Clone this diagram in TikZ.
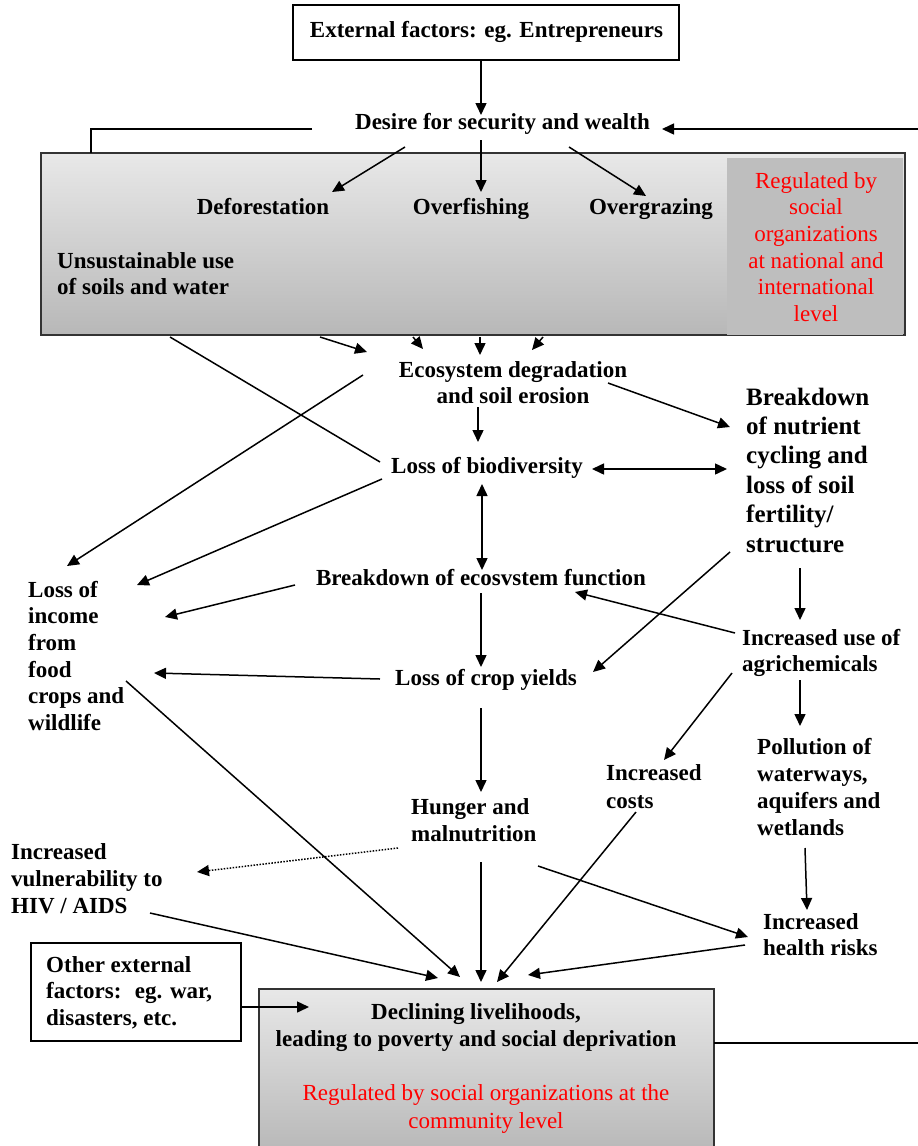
\documentclass[tikz,border=0pt]{standalone}
\usepackage{fontspec}
\setmainfont{Liberation Serif}
\usetikzlibrary{arrows.meta}
\newcommand\fsz[2]{\fontsize{#1}{#2}\selectfont}
\definecolor{gtop}{gray}{0.91}
\definecolor{gbot}{gray}{0.72}
\definecolor{ginner}{gray}{0.745}
\definecolor{gedge}{gray}{0.2}
\definecolor{regred}{RGB}{255,0,0}
\begin{document}
\begin{tikzpicture}[x=1pt,y=-1pt,
  bf/.style={inner sep=0pt, font=\bfseries\fsz{23}{#1}}, bf/.default=27,
  rg/.style={inner sep=0pt, text=regred, font=\fsz{23}{#1}}, rg/.default=27,
  conn/.style={line width=1.5pt},
  arr/.style={conn, -{Triangle[length=12pt,width=11pt]}},
  darr/.style={conn, {Triangle[length=12pt,width=11pt]}-{Triangle[length=12pt,width=11pt]}},
  dotarr/.style={arr, dash pattern=on 1.5pt off 1.5pt},
  plainbox/.style={draw, line width=1.2pt, inner sep=0pt},
  shadebox/.style={draw=gedge, line width=1.6pt, top color=gtop, bottom color=gbot, inner sep=0pt}]
\useasboundingbox (0,0) rectangle (918,1146);
\fill[white] (0,0) rectangle (918,1146);

% ---------- boxes ----------
\node[plainbox, minimum width=386pt, minimum height=55pt] (extbox) at (486,32.5) {};
\node[shadebox, minimum width=864pt, minimum height=182pt] (graybox) at (473,244) {};
\node[fill=ginner, inner sep=0pt, minimum width=176pt, minimum height=177pt] (regbox) at (815,246.5) {};
\node[plainbox, minimum width=210pt, minimum height=98pt] (otherbox) at (136,992) {};
\node[shadebox, minimum width=455pt, minimum height=164pt] (decbox) at (486.5,1071) {};

% ---------- texts ----------
\node[bf, anchor=base] (ext) at (486.5,37) {External factors: eg. Entrepreneurs};
\node[bf, anchor=base] (desire) at (502.5,129) {Desire for security and wealth};
\node[bf, anchor=base] (defor) at (263,214) {Deforestation};
\node[bf, anchor=base] (overf) at (471,214) {Overfishing};
\node[bf, anchor=base] (overg) at (651,214) {Overgrazing};
\node[bf=26, anchor=north west, align=left] (unsus) at (57,249.8) {\strut Unsustainable use\\of soils and water};
\node[rg=26.6, anchor=north, align=center] (regnat) at (816,169.4) {\strut Regulated by\\social\\organizations\\at national and\\international\\level};
\node[bf=26, anchor=north, align=center] (eco) at (513,358.8) {\strut Ecosystem degradation\\and soil erosion};
\node[bf, anchor=base] (biod) at (487,473) {Loss of biodiversity};
\node[inner sep=0pt, font=\bfseries\fsz{25}{29.4}, anchor=north west, align=left] (nutr) at (746,384.4) {\strut Breakdown\\of nutrient\\cycling and\\loss of soil\\fertility/\\structure};
\node[bf, anchor=base] (ecof) at (481,585) {Breakdown of ecosvstem function};
\node[bf, anchor=base] (crop) at (486,685) {Loss of crop yields};
\node[bf=26.6, anchor=north west, align=left] (income) at (28,578.4) {\strut Loss of\\income\\from\\food\\crops and\\wildlife};
\node[bf=26, anchor=north west, align=left] (agri) at (742,626.8) {\strut Increased use of\\agrichemicals};
\node[bf=28, anchor=north west, align=left] (costs) at (606,760.4) {\strut Increased\\costs};
\node[bf, anchor=north west, align=left] (poll) at (757,735.1) {\strut Pollution of\\waterways,\\aquifers and\\wetlands};
\node[bf=26, anchor=north west, align=left] (health) at (763,910.8) {\strut Increased\\health risks};
\node[bf, anchor=north west, align=left] (hunger) at (411,795.1) {\strut Hunger and\\malnutrition};
\node[bf, anchor=north west, align=left] (hiv) at (11,840.1) {\strut Increased\\vulnerability to\\HIV / AIDS};
\node[bf=26.5, anchor=north west, align=left] (other) at (46,953.4) {\strut Other external\\factors:~ eg. war,\\disasters, etc.};
\node[bf, anchor=north, align=center] (declin) at (476,1000.1) {\strut Declining livelihoods,\\leading to poverty and social deprivation};
\node[rg=28, anchor=north, align=center] (regcom) at (486,1080.4) {\strut Regulated by social organizations at the\\community level};

% ---------- connector end points ----------
\coordinate (ext-o) at (481,60);      \coordinate (des-i) at (481,115);
\coordinate (lft-a) at (312,129);     \coordinate (lft-b) at (91,129);   \coordinate (lft-c) at (91,153);
\coordinate (rgt-o) at (918,129);     \coordinate (des-r) at (662,129);
\coordinate (des-1) at (405,147);     \coordinate (def-i) at (332,192);
\coordinate (des-2) at (481,140);     \coordinate (ovf-i) at (481,192);
\coordinate (des-3) at (569,147);     \coordinate (ovg-i) at (646,196);
\coordinate (gb-1) at (320,337);      \coordinate (eco-1) at (367,352);
\coordinate (gb-2) at (413,337);      \coordinate (eco-2) at (423,349);
\coordinate (gb-3) at (480,337);      \coordinate (eco-3) at (480,355);
\coordinate (gb-4) at (543,337);      \coordinate (eco-4) at (532,350);
\coordinate (gb-5) at (170,337);      \coordinate (bio-l) at (380,462);
\coordinate (eco-l) at (363,375);     \coordinate (inc-1) at (67,566);
\coordinate (eco-b) at (478,407);     \coordinate (bio-t) at (478,442);
\coordinate (eco-r) at (608,383);     \coordinate (nut-1) at (730,427);
\coordinate (bio-r) at (592,469);     \coordinate (nut-2) at (727,469);
\coordinate (bio-d) at (382,479);     \coordinate (inc-2) at (137,585);
\coordinate (bio-b) at (482,484);     \coordinate (ecf-t) at (482,570);
\coordinate (ecf-l) at (295,585);     \coordinate (inc-3) at (165,617);
\coordinate (ecf-b) at (481,593);     \coordinate (crp-t) at (481,667);
\coordinate (crp-l) at (380,679);     \coordinate (inc-4) at (154,673);
\coordinate (agr-l) at (735,633);     \coordinate (ecf-r) at (575,592);
\coordinate (nut-b) at (730,552);     \coordinate (crp-r) at (593,672);
\coordinate (nut-d) at (800,568);     \coordinate (agr-t) at (800,620);
\coordinate (agr-d) at (732,673);     \coordinate (cst-t) at (664,760);
\coordinate (agr-b) at (800,680);     \coordinate (pol-t) at (800,726);
\coordinate (pol-b) at (805,848);     \coordinate (hea-t) at (807,910);
\coordinate (crp-b) at (481,708);     \coordinate (hun-t) at (481,792);
\coordinate (hun-l) at (398,848);     \coordinate (hiv-r) at (197,872);
\coordinate (inc-b) at (126,681);     \coordinate (dec-1) at (460,977);
\coordinate (hiv-b) at (150,913);     \coordinate (dec-2) at (438,978);
\coordinate (hun-b) at (481,862);     \coordinate (dec-3) at (481,982);
\coordinate (cst-b) at (636,812);     \coordinate (dec-4) at (497,982);
\coordinate (hun-r) at (538,866);     \coordinate (hea-l) at (748,937);
\coordinate (hea-b) at (745,945);     \coordinate (dec-5) at (528,975);
\coordinate (oth-r) at (241,1007);    \coordinate (dec-6) at (309,1007);
\coordinate (dec-r) at (714,1043);    \coordinate (rgt-e) at (918,1043);

% ---------- connectors ----------
\draw[arr] (ext-o) -- (des-i);
\draw[conn] (lft-a) -- (lft-b) -- (lft-c);
\draw[arr] (rgt-o) -- (des-r);
\draw[arr] (des-1) -- (def-i);
\draw[arr] (des-2) -- (ovf-i);
\draw[arr] (des-3) -- (ovg-i);
\draw[arr] (gb-1) -- (eco-1);
\draw[arr] (gb-2) -- (eco-2);
\draw[arr] (gb-3) -- (eco-3);
\draw[arr] (gb-4) -- (eco-4);
\draw[conn] (gb-5) -- (bio-l);
\draw[arr] (eco-l) -- (inc-1);
\draw[arr] (eco-b) -- (bio-t);
\draw[arr] (eco-r) -- (nut-1);
\draw[darr] (bio-r) -- (nut-2);
\draw[arr] (bio-d) -- (inc-2);
\draw[darr] (bio-b) -- (ecf-t);
\draw[arr] (ecf-l) -- (inc-3);
\draw[arr] (ecf-b) -- (crp-t);
\draw[arr] (crp-l) -- (inc-4);
\draw[arr] (agr-l) -- (ecf-r);
\draw[arr] (nut-b) -- (crp-r);
\draw[arr] (nut-d) -- (agr-t);
\draw[arr] (agr-d) -- (cst-t);
\draw[arr] (agr-b) -- (pol-t);
\draw[arr] (pol-b) -- (hea-t);
\draw[arr] (crp-b) -- (hun-t);
\draw[dotarr] (hun-l) -- (hiv-r);
\draw[arr] (inc-b) -- (dec-1);
\draw[arr] (hiv-b) -- (dec-2);
\draw[arr] (hun-b) -- (dec-3);
\draw[arr] (cst-b) -- (dec-4);
\draw[arr] (hun-r) -- (hea-l);
\draw[arr] (hea-b) -- (dec-5);
\draw[arr] (oth-r) -- (dec-6);
\draw[conn] (dec-r) -- (rgt-e);
\end{tikzpicture}
\end{document}
